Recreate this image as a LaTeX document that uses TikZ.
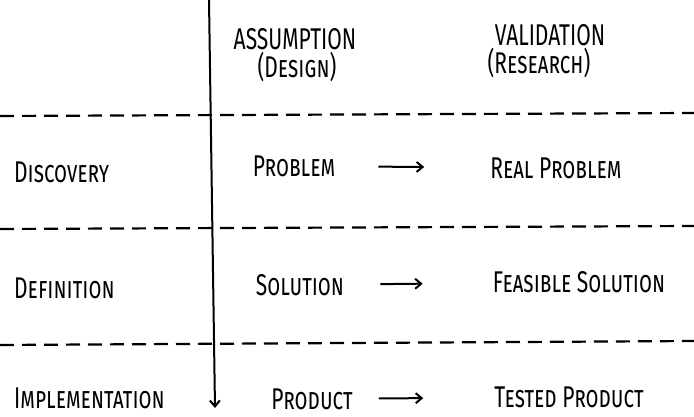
\documentclass[tikz,border=0pt]{standalone}
\usepackage{fontspec}
\setmainfont{Fira Sans}
\newfontfamily\handfont[FakeStretch=0.7]{Fira Sans}
\usetikzlibrary{arrows.meta}

\begin{document}
\begin{tikzpicture}[x=1pt,y=-1pt,
  word/.style={font=\handfont\fontsize{30}{32}\selectfont\scshape, inner sep=1pt},
  sepline/.style={line width=2.2pt, dash pattern=on 14pt off 8pt},
  flow/.style={-{Straight Barb[length=6pt,width=10pt]}, line width=2pt}]
\useasboundingbox (0,0) rectangle (694,417);

% Column headings
\node[word] (assume) at (295,39) {ASSUMPTION};
\node[word] (assumesub) at (297,67) {(Design)};
\node[word] (valid) at (550,35) {VALIDATION};
\node[word] (validsub) at (539,63) {(Research)};

% Phases
\node[word, anchor=west] (disc) at (13,172) {Discovery};
\node[word, anchor=west] (defn) at (13,288) {Definition};
\node[word, anchor=west] (impl) at (13,398) {Implementation};

% Assumptions and validations
\node[word] (prob) at (294,166) {Problem};
\node[word] (realprob) at (556,168) {Real Problem};
\node[word] (sol) at (300,285) {Solution};
\node[word] (feassol) at (579,282) {Feasible Solution};
\node[word] (prod) at (312,399) {Product};
\node[word] (testprod) at (569,397) {Tested Product};

% Row separators
\draw[sepline] (0,116) -- (694,113);
\draw[sepline] (0,229) -- (694,226);
\draw[sepline] (0,345) -- (694,341);

% Time axis
\coordinate (axtop) at (209,0);
\coordinate (axbot) at (215,408);
\draw[flow] (axtop) -- (axbot);

% Arrows
\draw[flow, shorten <=42pt, shorten >=65pt] (prob) -- (realprob);
\draw[flow, shorten <=35pt, shorten >=69pt] (sol) -- (feassol);
\draw[flow, shorten <=25pt, shorten >=70pt] (prod) -- (testprod);
\end{tikzpicture}
\end{document}
